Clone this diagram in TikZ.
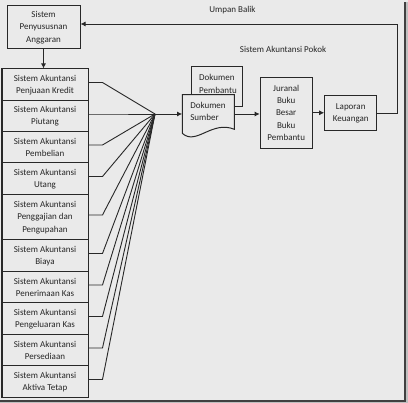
\documentclass[tikz,border=0pt]{standalone}
\usepackage{fontspec}
\setmainfont{Carlito}
\usepackage{tikz}
\usetikzlibrary{arrows.meta,calc}
\definecolor{latar}{RGB}{234,234,234}
\definecolor{garis}{RGB}{40,40,40}

\begin{document}
\begin{tikzpicture}[x=1pt,y=-1pt,>={Latex[length=5pt,width=5pt]},
  every node/.style={font=\fontsize{9}{12.2}\selectfont,text=black!85},
  kotak/.style={draw=garis,fill=latar,line width=1pt,align=center,inner sep=1pt},
  sistem/.style={kotak,minimum width=86pt},
  teks kiri/.style={align=left,text width=36pt,inner sep=0pt},
  hubung/.style={garis,line width=0.9pt}]
  \useasboundingbox (0,0) rectangle (408,403);
  % latar dan bayangan
  \fill[latar] (0,0) rectangle (408,403);
  \fill[black!25] (405.5,2) rectangle (408,403);
  \fill[black!25] (0,402) rectangle (408,403);
  \fill[black!75] (403.5,2) rectangle (405.5,402);
  \fill[black!75] (0,399.8) rectangle (405.5,402);

  \node[kotak,minimum width=73pt,minimum height=43pt] (anggaran) at (43.5,27.5) {Sistem\\Penyususnan\\Anggaran};

  \node[sistem,minimum height=32pt] (sa1) at (45,85) {Sistem Akuntansi\\Penjuaan Kredit};
  \node[sistem,minimum height=31pt] (sa2) at (45,116.5) {Sistem Akuntansi\\Piutang};
  \node[sistem,minimum height=31pt] (sa3) at (45,147.5) {Sistem Akuntansi\\Pembelian};
  \node[sistem,minimum height=32pt] (sa4) at (45,179) {Sistem Akuntansi\\Utang};
  \node[sistem,minimum height=45pt] (sa5) at (45,217.5) {Sistem Akuntansi\\Penggajian dan\\Pengupahan};
  \node[sistem,minimum height=32pt] (sa6) at (45,256) {Sistem Akuntansi\\Biaya};
  \node[sistem,minimum height=31pt] (sa7) at (45,287.5) {Sistem Akuntansi\\Penerimaan Kas};
  \node[sistem,minimum height=32pt] (sa8) at (45,319) {Sistem Akuntansi\\Pengeluaran Kas};
  \node[sistem,minimum height=31pt] (sa9) at (45,350.5) {Sistem Akuntansi\\Persediaan};
  \node[sistem,minimum height=32pt] (sa10) at (45,382) {Sistem Akuntansi\\Aktiva Tetap};

  \draw[hubung,->] (anggaran.south) -- (anggaran.south |- sa1.north);

  % semua sistem menuju satu titik
  \coordinate (hub) at (155,114);
  \draw[hubung] ([yshift=2.5pt]sa1.east) -- ++(14,0) -- (hub);
  \draw[hubung] ([yshift=2.5pt]sa2.east) -- ++(14,0) -- (hub);
  \draw[hubung] ([yshift=2.5pt]sa3.east) -- ++(14,0) -- (hub);
  \draw[hubung] ([yshift=2.5pt]sa4.east) -- ++(14,0) -- (hub);
  \draw[hubung] ([yshift=2.5pt]sa5.east) -- ++(14,0) -- (hub);
  \draw[hubung] ([yshift=2.5pt]sa6.east) -- ++(14,0) -- (hub);
  \draw[hubung] ([yshift=2.5pt]sa7.east) -- ++(14,0) -- (hub);
  \draw[hubung] ([yshift=2.5pt]sa8.east) -- ++(14,0) -- (hub);
  \draw[hubung] ([yshift=2.5pt]sa9.east) -- ++(14,0) -- (hub);
  \draw[hubung] ([yshift=2.5pt]sa10.east) -- ++(14,0) -- (hub);

  % dokumen
  \draw[draw=garis,fill=latar,line width=1pt] (191.7,66.7) rectangle (242.7,106.7);
  \node[teks kiri] (pembantu) at (217.2,84) {Dokumen\\Pembantu};
  \draw[draw=garis,fill=latar,line width=1pt] (182.3,94.7) -- (234.3,94.7) -- (234.3,129.3)
    .. controls (212,120) and (196,146) .. (182.3,133.3) -- cycle;
  \node[teks kiri,minimum width=52pt,minimum height=36pt] (sumber) at (208.3,111.5) {Dokumen\\Sumber};

  \node[kotak,minimum width=52pt,minimum height=71pt] (jurnal) at (286.2,112.8) {Juranal\\Buku\\Besar\\Buku\\Pembantu};
  \node[kotak,minimum width=52pt,minimum height=35pt] (lapor) at (350.7,113.5) {Laporan\\Keuangan};

  \draw[hubung,->] (hub) -- (hub -| sumber.west);
  \draw[hubung,->] (sumber.east |- hub) -- (hub -| jurnal.west);
  \draw[hubung,->] (jurnal.east) -- (jurnal.east -| lapor.west);
  \draw[hubung,->] (lapor.east) -- ++(20,0) |- ([yshift=3.5pt]anggaran.east);

  \node (umpan) at (232.5,10) {Umpan Balik};
  \node (pokok) at (283,49) {Sistem Akuntansi Pokok};
\end{tikzpicture}
\end{document}
